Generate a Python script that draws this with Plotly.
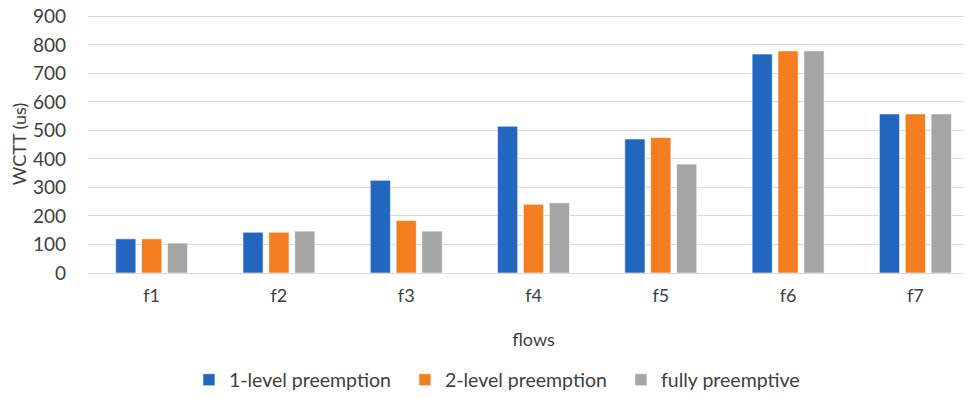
import plotly.graph_objects as go

categories = ["f1", "f2", "f3", "f4", "f5", "f6", "f7"]
one_level = [120, 143, 325, 515, 470, 768, 558]
two_level = [120, 143, 184, 241, 475, 779, 558]
fully = [105, 147, 147, 246, 382, 779, 558]
y_ticks = [0, 100, 200, 300, 400, 500, 600, 700, 800, 900]

FONT = "Lato"
TXT = "#404040"
fig = go.Figure()
for name, vals, col in [("1-level preemption", one_level, "#2366bf"),
                        ("2-level preemption", two_level, "#f47d20"),
                        ("fully preemptive", fully, "#a5a5a5")]:
    fig.add_trace(go.Bar(x=categories, y=vals, name=name,
                         marker=dict(color=col, line=dict(color="rgba(255,255,255,0.6)", width=1))))

fig.update_layout(
    width=972, height=399,
    margin=dict(l=80, r=1, t=7, b=134),
    paper_bgcolor="white", plot_bgcolor="white",
    barmode="group", bargap=0.39, bargroupgap=0.22,
    font=dict(family=FONT, size=18, color=TXT),
    xaxis=dict(range=[-0.5, 6.5], showgrid=False, showline=False, ticks="",
               automargin=False, ticklabelstandoff=10,
               tickfont=dict(size=18, color=TXT),
               title=dict(text="flows", standoff=28, font=dict(size=18, color=TXT))),
    yaxis=dict(range=[0, 905], tickvals=y_ticks, showgrid=True, gridcolor="#d9d9d9", gridwidth=1,
               zeroline=True, zerolinecolor="#d9d9d9", zerolinewidth=1, showline=False,
               ticks="", ticklabelstandoff=21, automargin=False, ticklabeloverflow="allow",
               tickfont=dict(size=19, color=TXT),
               title=dict(text="WCTT (us)", standoff=8, font=dict(size=18, color=TXT))),
    legend=dict(orientation="h", x=0.1133, xanchor="left", y=-0.415, yanchor="middle",
                entrywidth=171, entrywidthmode="pixels",
                font=dict(size=19.5, color=TXT), traceorder="normal"),
)
fig.write_html("out.html")
